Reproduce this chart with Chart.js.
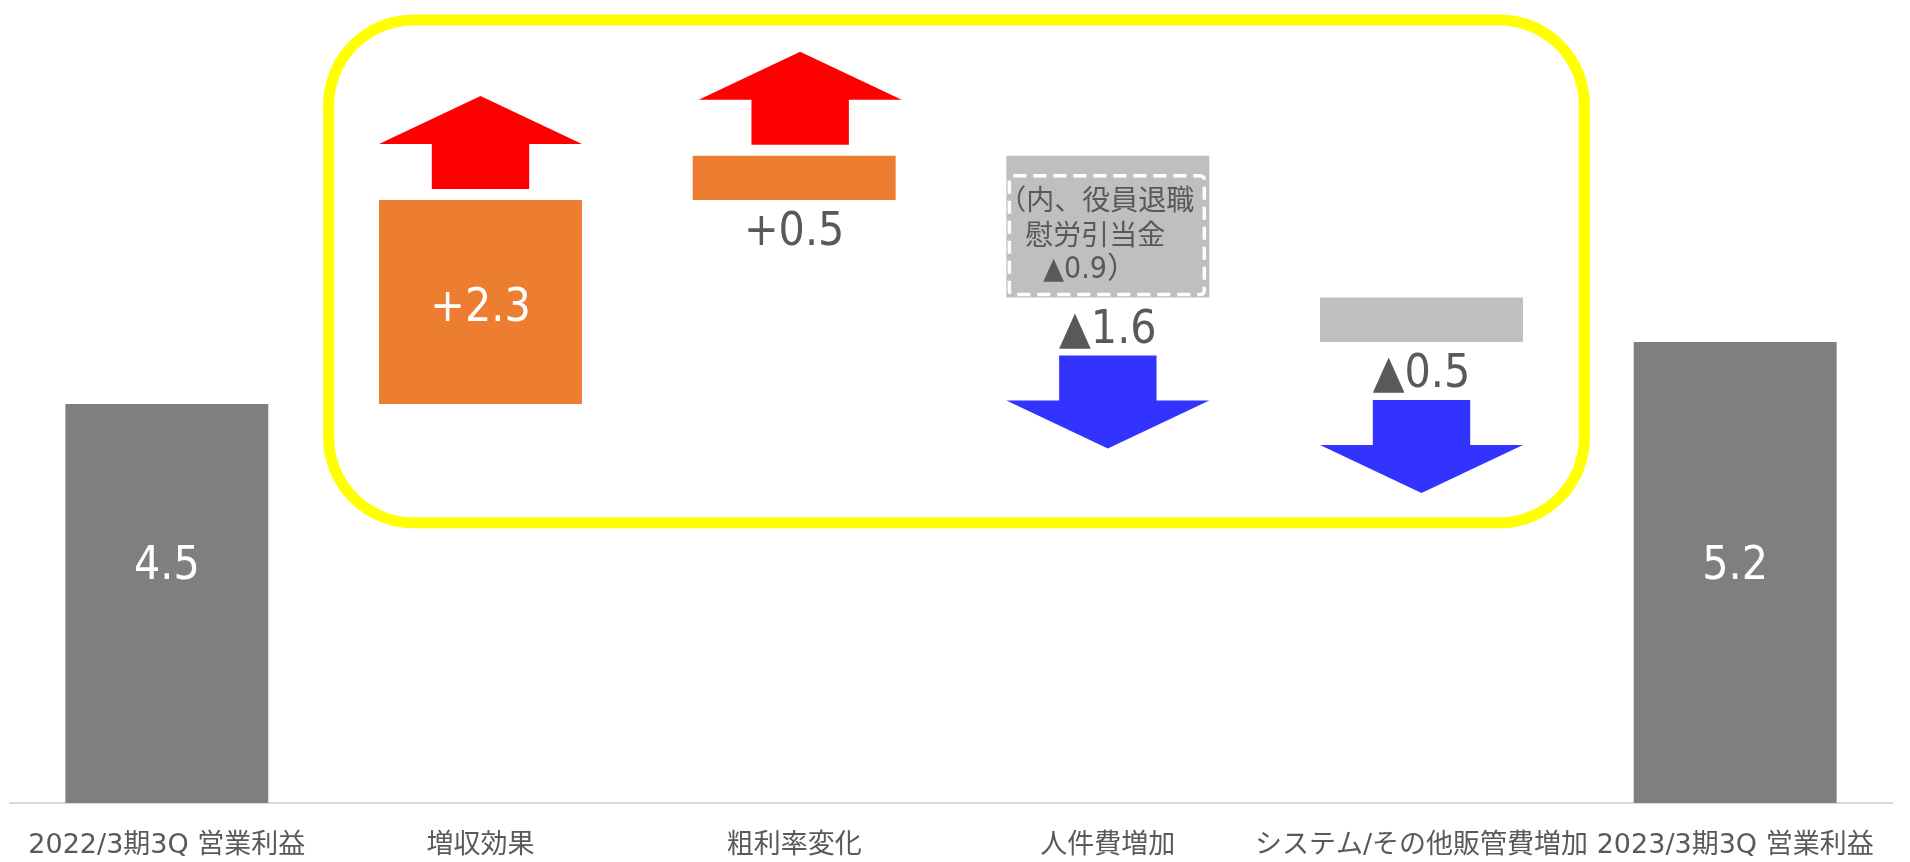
<!DOCTYPE html>
<html lang="ja">
<head>
<meta charset="utf-8">
<script src="https://cdn.jsdelivr.net/npm/chart.js@4.4.0/dist/chart.umd.min.js"></script>
<style>
    html, body { margin: 0; padding: 0; background: #fff; }
    #wrap { width: 1910px; height: 862px; }
</style>
</head>
<body>
<div id="wrap"><canvas id="chart" width="1910" height="862"></canvas></div>
<script>
// カテゴリ
const categories = ['2022/3期3Q 営業利益', '増収効果', '粗利率変化', '人件費増加', 'システム/その他販管費増加', '2023/3期3Q 営業利益'];
// 期首・期末の営業利益
const startTotal = 4.5;
const endTotal = 5.2;
// 増減要因
const changes = [2.3, 0.5, -1.6, -0.5];
// 表示ラベル
const valueLabels = ['4.5', '+2.3', '+0.5', '▲1.6', '▲0.5', '5.2'];
// 人件費の注記
const noteLines = ['（内、役員退職', '慰労引当金', '▲0.9）'];
// 縦軸の範囲
const yRange = [0, 9];

// ウォーターフォール用の区間を作る
const ranges = [[0, startTotal]];
let running = startTotal;
changes.forEach(c => {
    const next = Math.round((running + c) * 10) / 10;
    ranges.push([Math.min(running, next), Math.max(running, next)]);
    running = next;
});
ranges.push([0, endTotal]);

const barColors = ranges.map((r, i) => {
    if (i === 0 || i === ranges.length - 1) return '#7F7F7F';
    return changes[i - 1] >= 0 ? '#ED7D31' : '#BFBFBF';
});

const NUM_FONT = '46px "DejaVu Sans Condensed", "DejaVu Sans", sans-serif';
const JP_FONT = '"Noto Sans CJK JP", sans-serif';

// 矢印
function drawArrow(ctx, cx, width, yStart, dir, color) {
    const shaftW = width * 0.48;
    const shaftH = 45;
    const headH = 48;
    const yHead = yStart + dir * shaftH;
    const yTip = yHead + dir * headH;
    ctx.save();
    ctx.fillStyle = color;
    ctx.beginPath();
    ctx.moveTo(cx - shaftW / 2, yStart);
    ctx.lineTo(cx + shaftW / 2, yStart);
    ctx.lineTo(cx + shaftW / 2, yHead);
    ctx.lineTo(cx + width / 2, yHead);
    ctx.lineTo(cx, yTip);
    ctx.lineTo(cx - width / 2, yHead);
    ctx.lineTo(cx - shaftW / 2, yHead);
    ctx.closePath();
    ctx.fill();
    ctx.restore();
}

function roundRectPath(ctx, x, y, w, h, r) {
    ctx.beginPath();
    ctx.moveTo(x + r, y);
    ctx.arcTo(x + w, y, x + w, y + h, r);
    ctx.arcTo(x + w, y + h, x, y + h, r);
    ctx.arcTo(x, y + h, x, y, r);
    ctx.arcTo(x, y, x + w, y, r);
    ctx.closePath();
}

const overlayPlugin = {
    id: 'overlay',
    afterDatasetsDraw(chart) {
        const ctx = chart.ctx;
        const xs = chart.scales.x;
        const ys = chart.scales.y;
        const bars = chart.getDatasetMeta(0).data;

        bars.forEach((bar, i) => {
            const top = Math.min(bar.y, bar.base);
            const bottom = Math.max(bar.y, bar.base);
            const last = bars.length - 1;

            // 値ラベル
            ctx.save();
            ctx.font = NUM_FONT;
            ctx.textAlign = 'center';
            ctx.textBaseline = 'middle';
            if (i === 0 || i === last) {
                ctx.fillStyle = '#FFFFFF';
                ctx.fillText(valueLabels[i], bar.x, ys.getPixelForValue(2.7) + 3);
            } else if (i === 1) {
                ctx.fillStyle = '#FFFFFF';
                ctx.fillText(valueLabels[i], bar.x, (top + bottom) / 2 + 7);
            } else {
                ctx.fillStyle = '#595959';
                ctx.fillText(valueLabels[i], bar.x, bottom + 33);
            }
            ctx.restore();

            // 増減の矢印
            if (i > 0 && i < last) {
                if (changes[i - 1] >= 0) {
                    drawArrow(ctx, bar.x + (i === 2 ? 6 : 0), bar.width, top - 11, -1, '#FF0000');
                } else {
                    drawArrow(ctx, bar.x, bar.width, bottom + 58, 1, '#3333FF');
                }
            }
        });

        // 人件費の注記（点線枠）
        const nb = bars[3];
        const nTop = Math.min(nb.y, nb.base);
        const nBottom = Math.max(nb.y, nb.base);
        const nLeft = nb.x - nb.width / 2;
        ctx.save();
        ctx.strokeStyle = '#FFFFFF';
        ctx.lineWidth = 3.5;
        ctx.setLineDash([13, 7]);
        roundRectPath(ctx, nLeft + 3, nTop + 20, nb.width - 8, nBottom - nTop - 23, 4);
        ctx.stroke();
        ctx.setLineDash([]);
        ctx.fillStyle = '#595959';
        ctx.textAlign = 'left';
        ctx.textBaseline = 'middle';
        const offsets = [-8, 19, 37];
        noteLines.forEach((line, k) => {
            ctx.font = k === 2
                ? '30px "DejaVu Sans Condensed", "DejaVu Sans", "Noto Sans CJK JP", sans-serif'
                : '28px ' + JP_FONT;
            ctx.fillText(line, nLeft + offsets[k], nTop + 44 + k * 35);
        });
        ctx.restore();

        // 黄色の枠
        const left = (xs.getPixelForValue(0) + xs.getPixelForValue(1)) / 2 + 5;
        const right = (xs.getPixelForValue(4) + xs.getPixelForValue(5)) / 2 + 6;
        const top = chart.chartArea.top + 15;
        const bottom = ys.getPixelForValue(3.16);
        ctx.save();
        ctx.strokeStyle = '#FFFF00';
        ctx.lineWidth = 11;
        roundRectPath(ctx, left, top, right - left, bottom - top, 85);
        ctx.stroke();
        ctx.restore();
    }
};

document.addEventListener('DOMContentLoaded', () => {
    const ctx = document.getElementById('chart').getContext('2d');
    new Chart(ctx, {
        type: 'bar',
        data: {
            labels: categories,
            datasets: [{
                data: ranges,
                backgroundColor: barColors,
                borderWidth: 0,
                categoryPercentage: 1,
                barPercentage: 0.647
            }]
        },
        options: {
            responsive: false,
            animation: false,
            layout: {
                padding: { top: 5, left: 10, right: 18, bottom: 0 }
            },
            plugins: {
                legend: { display: false },
                tooltip: { enabled: false }
            },
            scales: {
                x: {
                    afterFit(scale) {
                        // 軸の高さを固定
                        scale.height = 59;
                    },
                    grid: { display: false, drawTicks: false },
                    border: { color: '#D9D9D9', width: 2 },
                    ticks: {
                        color: '#595959',
                        font: { family: '"DejaVu Sans", "Noto Sans CJK JP", sans-serif', size: 27 },
                        padding: 27,
                        maxRotation: 0,
                        autoSkip: false
                    }
                },
                y: {
                    display: false,
                    min: yRange[0],
                    max: yRange[1]
                }
            }
        },
        plugins: [overlayPlugin]
    });
});
</script>
</body>
</html>
